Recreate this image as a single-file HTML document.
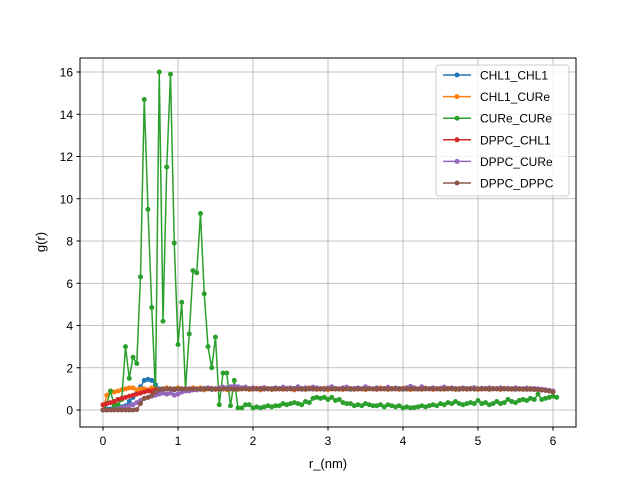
<!DOCTYPE html>
<html><head><meta charset="utf-8"><style>
body{margin:0;background:#fff;}
svg text{font-family:"Liberation Sans","DejaVu Sans",sans-serif;}
</style></head><body>
<svg id="chart" width="640" height="480" xmlns="http://www.w3.org/2000/svg">
<rect width="640" height="480" fill="#fff"/>
<g id="grid"></g>
<g id="series"></g>
<rect x="80" y="58" width="496" height="369" fill="none" stroke="#000" stroke-width="1"/>
<g id="ticks"></g>
<text x="328" y="468" text-anchor="middle" font-size="13">r_(nm)</text>
<text x="45" y="242" text-anchor="middle" font-size="13" transform="rotate(-90 45 242)">g(r)</text>
<g id="legend"></g>
</svg>
<script>
const xTicks=[0,1,2,3,4,5,6];
const yTicks=[0,2,4,6,8,10,12,14,16];
const seriesNames=["CHL1_CHL1","CHL1_CURe","CURe_CURe","DPPC_CHL1","DPPC_CURe","DPPC_DPPC"];
const seriesColors=["#1f77b4","#ff7f0e","#2ca02c","#d62728","#9467bd","#8c564b"];
const tailBlue=[1.0,0.98,1.02,1.0,0.97,1.0,1.03,1.0,0.98,1.0,1.02,0.99,1.0,1.01,0.98,1.0,1.0,1.02,0.99,1.0,0.98,1.0,1.01,1.0,0.99,1.0,1.02,1.0,0.98,1.0,1.0,0.99,1.01,1.0,0.98,1.0,1.02,1.0,0.99,1.0,1.0,0.98,1.01,1.0,1.0,0.99,1.02,1.0,0.98,1.0,1.0,1.01,0.99,1.0,1.0,0.98,1.0,1.02,1.0,0.99,1.0,1.0,1.01,0.98,1.0,1.0,0.99,1.02,1.0,1.0,0.98,1.0,1.01,1.0,0.99,1.0,1.0,1.02,0.98,1.0,1.0,0.99,1.0,1.01,1.0,0.98,1.0,1.0,0.99,1.0,1.0,0.98,0.97,0.95,0.92,0.88];
const tailOrange=[1.0,1.05,0.95,1.0,1.02,0.97,1.05,1.0,0.96,1.0,1.04,0.98,1.0,1.06,0.97,1.0,1.03,0.95,1.02,1.0,0.97,1.05,1.0,0.98,1.02,1.0,0.95,1.03,1.0,0.97,1.05,1.0,0.98,1.0,1.03,0.96,1.0,1.02,1.0,0.97,1.04,1.0,0.98,1.02,1.0,0.96,1.03,1.0,0.98,1.05,1.0,0.97,1.02,1.0,0.98,1.03,1.0,0.96,1.02,1.0,0.98,1.04,1.0,0.97,1.02,1.0,0.98,1.03,1.0,0.97,1.02,1.0,0.98,1.03,1.0,0.97,1.02,1.0,0.98,1.02,1.0,0.97,1.03,1.0,0.98,1.02,1.0,0.97,1.0,1.02,0.98,1.0,0.97,0.95,0.92,0.88];
const green=[0,0.3,0.9,0.2,0.25,0.5,3.0,1.5,2.5,2.2,6.3,14.7,9.5,4.85,0.8,16,4.2,11.5,15.9,7.9,3.1,5.1,1.0,3.6,6.6,6.5,9.3,5.5,3.0,2.0,3.45,0.25,1.75,1.75,0.2,1.4,0.1,0.1,0.25,0.25,0.1,
0.15,0.1,0.15,0.2,0.15,0.2,0.2,0.3,0.25,0.3,0.35,0.3,0.25,0.4,0.35,0.55,0.6,0.55,0.6,0.5,
0.6,0.45,0.5,0.35,0.3,0.3,0.2,0.25,0.2,0.3,0.25,0.2,0.2,0.25,0.15,0.25,0.2,0.15,0.2,0.1,
0.15,0.1,0.12,0.15,0.2,0.15,0.2,0.25,0.2,0.3,0.25,0.35,0.3,0.4,0.3,0.25,0.3,0.35,0.3,0.45,
0.3,0.35,0.25,0.3,0.4,0.3,0.35,0.5,0.4,0.35,0.45,0.5,0.45,0.55,0.5,0.75,0.5,0.55,0.6,0.65,0.6];
const tailRed=[1.0,0.99,1.0,1.01,1.0,0.99,1.0,1.0,1.01,1.0,0.99,1.0,1.0,1.01,1.0,0.99,1.0,1.0,1.0,1.01,1.0,0.99,1.0,1.0,1.01,1.0,0.99,1.0,1.0,1.0,1.01,1.0,0.99,1.0,1.0,1.01,1.0,0.99,1.0,1.0,1.0,1.01,1.0,0.99,1.0,1.0,1.01,1.0,0.99,1.0,1.0,1.0,1.01,1.0,0.99,1.0,1.0,1.01,1.0,0.99,1.0,1.0,1.0,1.01,1.0,0.99,1.0,1.0,1.01,1.0,0.99,1.0,1.0,1.0,1.01,1.0,0.99,1.0,1.0,1.01,1.0,0.99,1.0,1.0,1.0,1.0,0.99,1.0,1.0,0.99,0.98,0.97,0.95,0.93,0.9,0.87];
const tailPurple=[0.95,1.0,1.0,1.05,1.02,1.0,1.05,1.08,1.05,1.1,1.12,1.1,1.05,1.08,1.02,1.05,1.0,1.03,1.06,1.0,1.02,1.05,1.0,1.08,1.03,1.05,1.0,1.1,1.02,1.05,1.0,1.08,1.05,1.02,1.0,1.05,1.1,1.02,1.0,1.05,1.08,1.0,1.02,1.05,1.0,1.1,1.03,1.0,1.05,1.0,1.02,1.08,1.0,1.05,1.02,1.0,1.06,1.12,1.05,1.0,1.1,1.02,1.0,1.05,1.0,1.03,1.08,1.0,1.05,1.02,1.0,1.05,1.0,1.02,1.06,1.0,1.03,1.0,1.05,1.0,1.02,1.05,1.0,1.03,1.0,1.05,1.02,1.0,1.04,1.0,1.02,1.0,0.98,0.96,0.93,0.9];
const tailBrown=[1.0,1.0,0.99,1.0,1.0,1.0,0.99,1.0,1.0,1.0,1.0,0.99,1.0,1.0,1.0,0.99,1.0,1.0,1.0,1.0,0.99,1.0,1.0,1.0,0.99,1.0,1.0,1.0,1.0,0.99,1.0,1.0,1.0,0.99,1.0,1.0,1.0,1.0,0.99,1.0,1.0,1.0,0.99,1.0,1.0,1.0,1.0,0.99,1.0,1.0,1.0,0.99,1.0,1.0,1.0,1.0,0.99,1.0,1.0,1.0,0.99,1.0,1.0,1.0,1.0,0.99,1.0,1.0,1.0,0.99,1.0,1.0,1.0,1.0,0.99,1.0,1.0,1.0,0.99,1.0,1.0,1.0,1.0,0.99,1.0,1.0,0.99,0.99,0.98,0.98,0.97,0.96,0.95,0.93,0.9,0.86];
const blue=[0,0.05,0.05,0.1,0.1,0.15,0.2,0.4,0.6,0.8,1.1,1.4,1.45,1.4,1.2,1.0,0.95,1.0,1.0,0.95,1.0,1.0,0.95,1.0,1.0].concat(tailBlue);
const orange=[0,0.7,0.9,0.85,0.9,0.95,1.0,1.05,1.05,0.95,1.0,1.0,0.95,1.05,1.0,0.95,1.0,1.05,1.0,1.0,1.05,0.95,1.0,1.0,1.05].concat(tailOrange);
const red=[0.25,0.3,0.35,0.4,0.5,0.55,0.6,0.65,0.7,0.75,0.8,0.85,0.9,0.9,0.95,0.95,1.0,1.0,1.0,0.98,1.0,1.0,1.0,1.0,1.0].concat(tailRed);
const purple=[0,0,0,0.02,0.05,0.1,0.15,0.2,0.25,0.35,0.45,0.55,0.6,0.65,0.7,0.75,0.8,0.75,0.8,0.7,0.75,0.85,0.9,0.9,0.95].concat(tailPurple);
const brown=[0,0,0,0,0,0,0,0,0,0.02,0.3,0.55,0.6,0.7,0.85,0.95,1.0,1.0,1.0,1.0,1.0,1.0,1.0,1.0,1.0].concat(tailBrown);
const allSeries=[blue,orange,green,red,purple,brown];
const dx=0.05;

const NS="http://www.w3.org/2000/svg";
const X=v=>103+v*75;
const Y=v=>410-v*21.125;
function mk(tag,parent){const e=document.createElementNS(NS,tag);parent.appendChild(e);return e;}
const grid=document.getElementById('grid'),ticks=document.getElementById('ticks');
xTicks.forEach(t=>{
  const l=mk('line',grid);l.setAttribute('x1',X(t));l.setAttribute('x2',X(t));l.setAttribute('y1',58);l.setAttribute('y2',427);l.setAttribute('stroke','#b0b0b0');l.setAttribute('stroke-width','0.8');
  
  
  const k=mk('line',ticks);k.setAttribute('x1',X(t));k.setAttribute('x2',X(t));k.setAttribute('y1',427);k.setAttribute('y2',430.5);k.setAttribute('stroke','#000');
  
  
  const tx=mk('text',ticks);tx.setAttribute('x',X(t));tx.setAttribute('y',445);tx.setAttribute('text-anchor','middle');tx.setAttribute('font-size','12');tx.textContent=t;
  
  
});
yTicks.forEach(t=>{
  const l=mk('line',grid);l.setAttribute('x1',80);l.setAttribute('x2',576);l.setAttribute('y1',Y(t));l.setAttribute('y2',Y(t));l.setAttribute('stroke','#b0b0b0');l.setAttribute('stroke-width','0.8');
  
  
  const k=mk('line',ticks);k.setAttribute('x1',76.5);k.setAttribute('x2',80);k.setAttribute('y1',Y(t));k.setAttribute('y2',Y(t));k.setAttribute('stroke','#000');
  
  
  const tx=mk('text',ticks);tx.setAttribute('x',73);tx.setAttribute('y',Y(t)+4.5);tx.setAttribute('text-anchor','end');tx.setAttribute('font-size','12');tx.textContent=t;
  
  
});
const sg=document.getElementById('series');
allSeries.forEach((arr,si)=>{
  const g=mk('g',sg);
  
  
  const p=mk('polyline',g);
  p.setAttribute('points',arr.map((v,i)=>X(i*dx)+','+Y(v)).join(' '));
  p.setAttribute('fill','none');p.setAttribute('stroke',seriesColors[si]);p.setAttribute('stroke-width','1.5');
  
  
  arr.forEach((v,i)=>{
    const c=mk('circle',g);c.setAttribute('cx',X(i*dx));c.setAttribute('cy',Y(v));c.setAttribute('r','2.5');c.setAttribute('fill',seriesColors[si]);
    
    
  });
});
const lg=document.getElementById('legend');
const box=mk('rect',lg);box.setAttribute('x',436);box.setAttribute('y',65);box.setAttribute('width',133);box.setAttribute('height',131);box.setAttribute('rx',3);box.setAttribute('fill','#fff');box.setAttribute('fill-opacity','0.8');box.setAttribute('stroke','#ccc');


seriesNames.forEach((n,i)=>{
  const y=75+i*21.6;
  const g=mk('g',lg);
  
  
  const l=mk('line',g);l.setAttribute('x1',443);l.setAttribute('x2',471);l.setAttribute('y1',y);l.setAttribute('y2',y);l.setAttribute('stroke',seriesColors[i]);l.setAttribute('stroke-width','1.5');
  const c=mk('circle',g);c.setAttribute('cx',457);c.setAttribute('cy',y);c.setAttribute('r','2.5');c.setAttribute('fill',seriesColors[i]);
  const t=mk('text',g);t.setAttribute('x',480);t.setAttribute('y',y+4.5);t.setAttribute('font-size','12');t.textContent=n;
});
</script>
</body></html>
